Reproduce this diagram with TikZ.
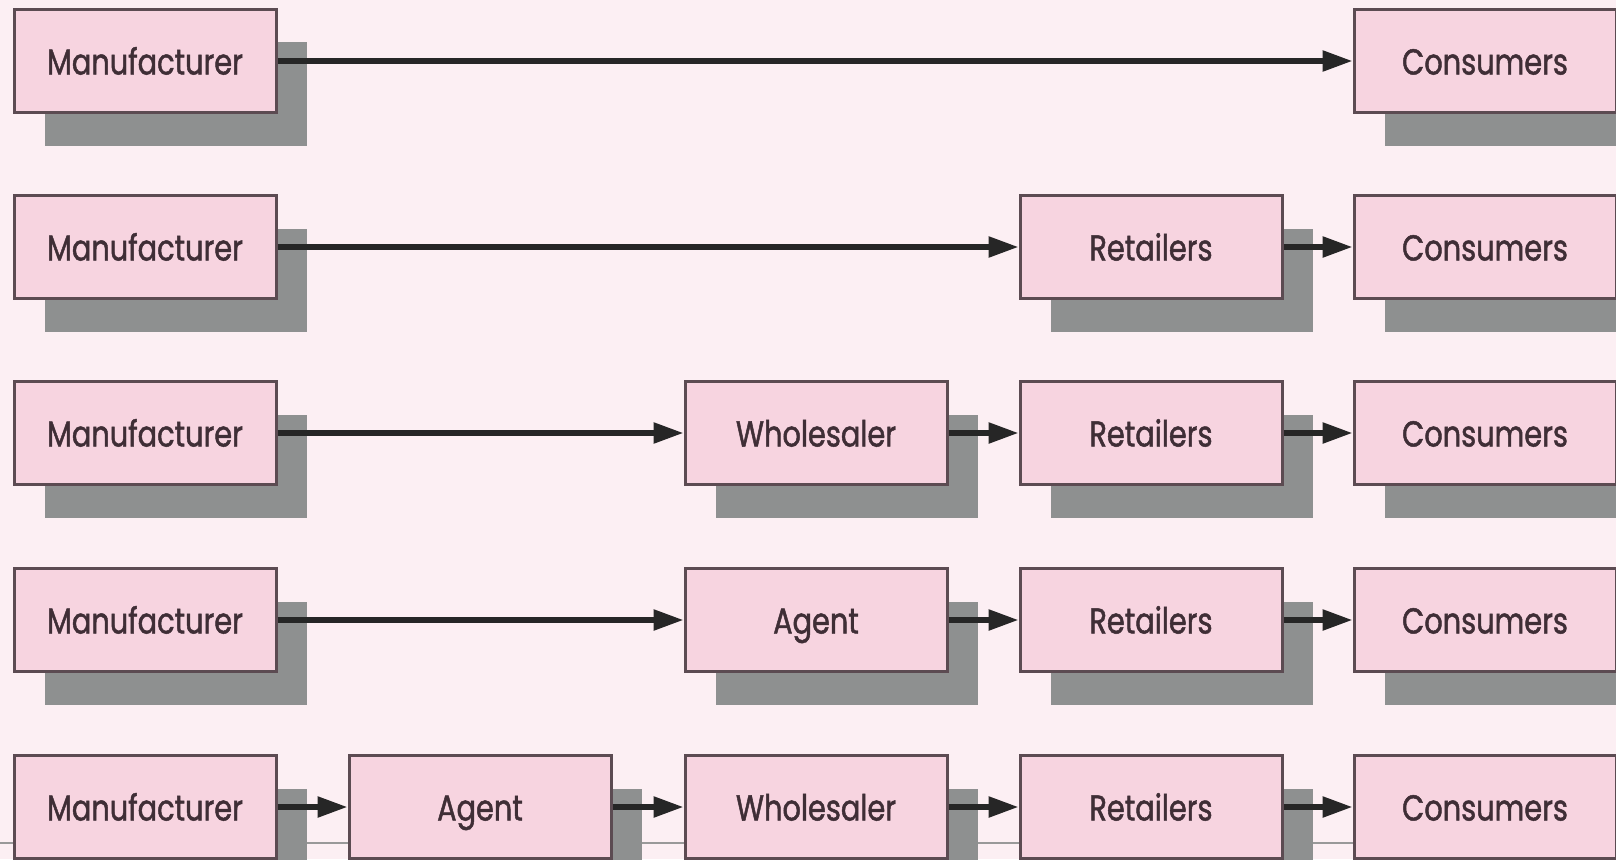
\documentclass[tikz,border=0pt]{standalone}
\usepackage{fontspec}
\newfontfamily\boxfont{Poppins}[FakeStretch=0.8, FakeBold=1.3]
\usetikzlibrary{arrows.meta,shadows}
\definecolor{bgpink}{HTML}{FCEFF3}
\definecolor{boxpink}{HTML}{F7D4E0}
\definecolor{boxline}{HTML}{5C4B52}
\definecolor{shadowgray}{HTML}{8E9090}
\definecolor{txt}{HTML}{3F2E36}
\tikzset{
  chainbox/.style={rectangle, minimum width=262pt, minimum height=103pt,
    fill=boxpink, draw=boxline, line width=3pt, text=txt,
    font=\boxfont\fontsize{36}{40}\selectfont, text height=33pt, text depth=6pt,
    drop shadow={shadow xshift=31pt, shadow yshift=-33pt, fill=shadowgray, opacity=1}},
  flow/.style={line width=5.5pt, draw=black!85, -{Triangle[length=30pt,width=20pt]}},
}
\begin{document}
\begin{tikzpicture}[x=1pt,y=-1pt]
\fill[bgpink] (0,0) rectangle (1616,859);
\useasboundingbox (0,0) rectangle (1616,859);
\clip (0,0) rectangle (1616,859);
\draw[line width=1.5pt, gray!80] (0,843) -- (1616,843);
% row 1
\node[chainbox] (m1) at (145,61) {Manufacturer};
\node[chainbox] (c1) at (1485,61) {Consumers};
% row 2
\node[chainbox] (m2) at (145,247) {Manufacturer};
\node[chainbox] (r2) at (1151,247) {Retailers};
\node[chainbox] (c2) at (1485,247) {Consumers};
% row 3
\node[chainbox] (m3) at (145,433) {Manufacturer};
\node[chainbox] (w3) at (816,433) {Wholesaler};
\node[chainbox] (r3) at (1151,433) {Retailers};
\node[chainbox] (c3) at (1485,433) {Consumers};
% row 4
\node[chainbox] (m4) at (145,620) {Manufacturer};
\node[chainbox] (a4) at (816,620) {Agent};
\node[chainbox] (r4) at (1151,620) {Retailers};
\node[chainbox] (c4) at (1485,620) {Consumers};
% row 5
\node[chainbox] (m5) at (145,807) {Manufacturer};
\node[chainbox] (a5) at (480,807) {Agent};
\node[chainbox] (w5) at (816,807) {Wholesaler};
\node[chainbox] (r5) at (1151,807) {Retailers};
\node[chainbox] (c5) at (1485,807) {Consumers};
% arrows
\draw[flow] (m1.east) -- (c1.west);
\draw[flow] (m2.east) -- (r2.west);
\draw[flow] (r2.east) -- (c2.west);
\draw[flow] (m3.east) -- (w3.west);
\draw[flow] (w3.east) -- (r3.west);
\draw[flow] (r3.east) -- (c3.west);
\draw[flow] (m4.east) -- (a4.west);
\draw[flow] (a4.east) -- (r4.west);
\draw[flow] (r4.east) -- (c4.west);
\draw[flow] (m5.east) -- (a5.west);
\draw[flow] (a5.east) -- (w5.west);
\draw[flow] (w5.east) -- (r5.west);
\draw[flow] (r5.east) -- (c5.west);
\end{tikzpicture}
\end{document}
